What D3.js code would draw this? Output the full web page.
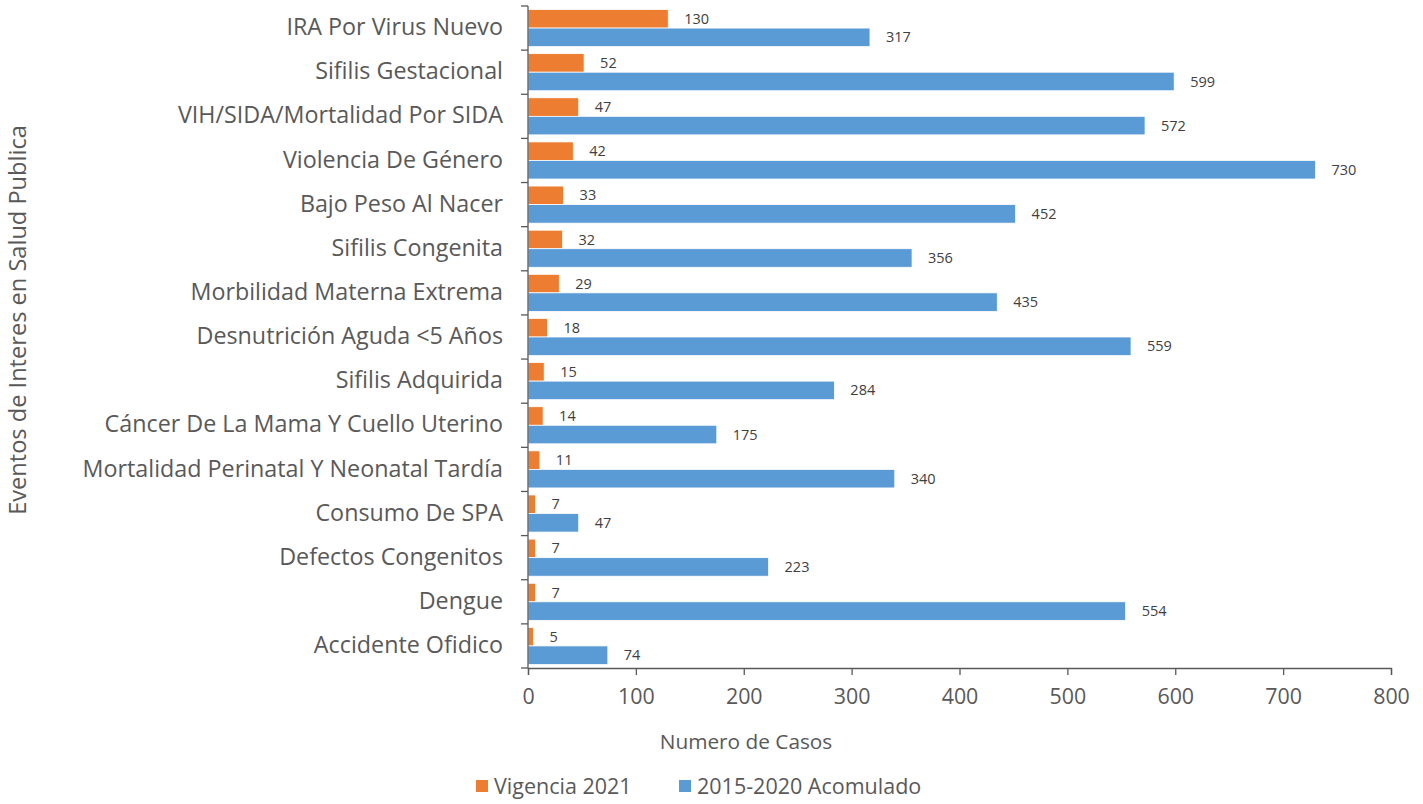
<!DOCTYPE html>
<html>
<head>
<meta charset="utf-8">
<script src="https://cdn.jsdelivr.net/npm/d3@7"></script>
<style>
  body { margin: 0; background: #fff; }
  text { font-family: "Open Sans", "Noto Sans", sans-serif; fill: #595959; }
</style>
</head>
<body>
<div id="chart"></div>
<script>
const categories = [
  'IRA Por Virus Nuevo', 'Sifilis Gestacional', 'VIH/SIDA/Mortalidad Por SIDA',
  'Violencia De Género', 'Bajo Peso Al Nacer', 'Sifilis Congenita',
  'Morbilidad Materna Extrema', 'Desnutrición Aguda <5 Años', 'Sifilis Adquirida',
  'Cáncer De La Mama Y Cuello Uterino', 'Mortalidad Perinatal Y Neonatal Tardía',
  'Consumo De SPA', 'Defectos Congenitos', 'Dengue', 'Accidente Ofidico'
];
const vigencia2021 = [130, 52, 47, 42, 33, 32, 29, 18, 15, 14, 11, 7, 7, 7, 5];
const acumulado = [317, 599, 572, 730, 452, 356, 435, 559, 284, 175, 340, 47, 223, 554, 74];
const xTicks = [0, 100, 200, 300, 400, 500, 600, 700, 800];
const seriesNames = ['Vigencia 2021', '2015-2020 Acomulado'];
const colors = ['#ED7D31', '#5B9BD5'];

const W = 1423, H = 804;
const plotLeft = 528, plotRight = 1391, plotTop = 6, plotBottom = 668;

const svg = d3.select('#chart').append('svg')
  .attr('width', W).attr('height', H);

const x = d3.scaleLinear().domain([0, 800]).range([plotLeft, plotRight]);
const y = d3.scaleBand().domain(categories).range([plotTop, plotBottom]).paddingInner(0.16).paddingOuter(0.08);
const sub = d3.scaleBand().domain([0, 1]).range([0, y.bandwidth()]);

const rows = categories.map((c, i) => ({ cat: c, vals: [vigencia2021[i], acumulado[i]] }));

const g = svg.selectAll('.row').data(rows).enter().append('g')
  .attr('transform', d => `translate(0,${y(d.cat)})`);

g.selectAll('rect').data(d => d.vals).enter().append('rect')
  .attr('x', x(0))
  .attr('y', (v, j) => sub(j))
  .attr('width', v => x(v) - x(0))
  .attr('height', sub.bandwidth())
  .attr('fill', (v, j) => colors[j])
  .attr('stroke', '#fff')
  .attr('stroke-width', 0.75);

g.selectAll('.val').data(d => d.vals).enter().append('text')
  .attr('class', 'val')
  .attr('x', v => x(v) + 16)
  .attr('y', (v, j) => sub(j) + sub.bandwidth() / 2)
  .attr('dy', '0.35em')
  .style('font-size', '14.5px')
  .style('fill', '#404040')
  .text(v => v);

// y axis line and ticks (between categories)
const axisColor = '#595959';
svg.append('line')
  .attr('x1', plotLeft).attr('x2', plotLeft).attr('y1', plotTop).attr('y2', plotBottom)
  .attr('stroke', axisColor).attr('stroke-width', 1.3);
const step = (plotBottom - plotTop) / categories.length;
svg.selectAll('.ytick').data(d3.range(categories.length + 1)).enter().append('line')
  .attr('x1', plotLeft - 7).attr('x2', plotLeft)
  .attr('y1', i => plotTop + i * step).attr('y2', i => plotTop + i * step)
  .attr('stroke', axisColor).attr('stroke-width', 1.3);

svg.selectAll('.ylab').data(categories).enter().append('text')
  .attr('x', 503)
  .attr('y', d => y(d) + y.bandwidth() / 2 - 1)
  .attr('dy', '0.35em')
  .attr('text-anchor', 'end')
  .style('font-size', '23.3px')
  .text(d => d);

// x axis
const xAxis = svg.append('g')
  .attr('transform', `translate(0,${plotBottom})`)
  .call(d3.axisBottom(x).tickValues(xTicks).tickSize(7).tickPadding(14));
xAxis.select('.domain').attr('stroke', axisColor).attr('stroke-width', 1.3);
xAxis.selectAll('.tick line').attr('stroke', axisColor).attr('stroke-width', 1.3);
xAxis.selectAll('.tick text').style('font-size', '21.4px').style('fill', '#595959')
  .style('font-family', '"Open Sans", sans-serif');

svg.append('text')
  .attr('x', 746).attr('y', 742)
  .attr('dy', '0.35em')
  .attr('text-anchor', 'middle')
  .style('font-size', '20.8px')
  .text('Numero de Casos');

svg.append('text')
  .attr('transform', 'translate(26,320) rotate(-90)')
  .attr('text-anchor', 'middle')
  .style('font-size', '23.6px')
  .text('Eventos de Interes en Salud Publica');

// legend
const legendX = [476, 679];
const lg = svg.selectAll('.legend').data(seriesNames).enter().append('g')
  .attr('transform', (d, i) => `translate(${legendX[i]},780)`);
lg.append('rect').attr('width', 12).attr('height', 12).attr('y', 0)
  .attr('fill', (d, i) => colors[i]);
lg.append('text').attr('x', 18).attr('y', 6).attr('dy', '0.35em')
  .style('font-size', '21.5px')
  .text(d => d);
</script>
</body>
</html>
